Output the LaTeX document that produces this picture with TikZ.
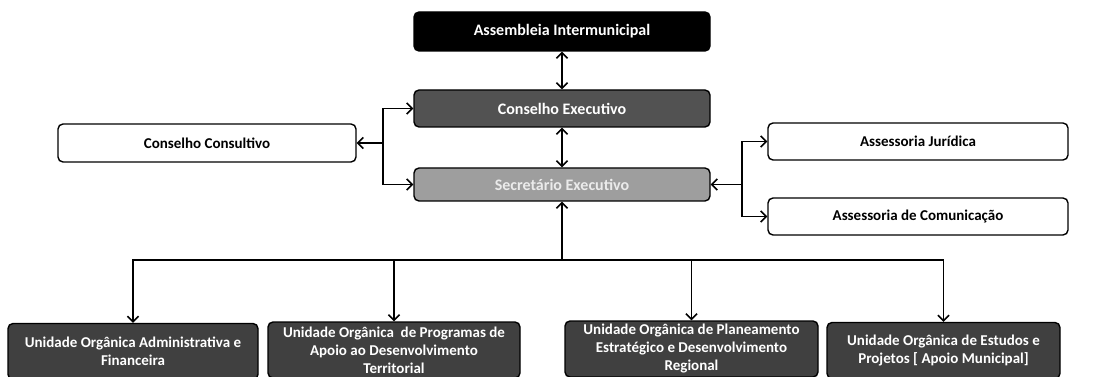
\documentclass[tikz,border=0pt]{standalone}
\usepackage{fontspec}
\setmainfont{Carlito}
\usetikzlibrary{arrows.meta}
\begin{document}
\begin{tikzpicture}[x=1pt,y=-1pt,
  box/.style={draw=black, line width=1.4pt, rounded corners=5pt,
    font=\bfseries\fontsize{15}{18}\selectfont, align=center, inner sep=0pt},
  wbox/.style={box, fill=white, text=black, minimum width=298pt, minimum height=38pt},
  topbox/.style={box, fill=black, text=white, minimum width=296pt, minimum height=39pt,
    font=\bfseries\fontsize{16}{18}\selectfont},
  cebox/.style={box, fill=black!68, text=white, minimum width=296pt, minimum height=37pt,
    font=\bfseries\fontsize{16}{18}\selectfont},
  sebox/.style={box, fill=black!38, text=black!8, minimum width=296pt, minimum height=33pt,
    font=\bfseries\fontsize{16}{18}\selectfont},
  ubox/.style={box, fill=black!75, text=white, minimum height=56pt},
  tip/.style={},
  conn/.style={line width=1.3pt, -{Straight Barb[length=5.5pt,width=11pt,line width=1.6pt]}},
  dconn/.style={line width=1.3pt, {Straight Barb[length=5.5pt,width=11pt,line width=1.6pt]}-{Straight Barb[length=5.5pt,width=11pt,line width=1.6pt]}},
]
\useasboundingbox (0,0) rectangle (1096,377);
\clip (0,0) rectangle (1096,377);

\node[topbox] (asm) at (562,31.5) {Assembleia Intermunicipal};
\node[cebox] (ce) at (562,108.5) {Conselho Executivo};
\node[sebox] (se) at (562,184.5) {Secretário Executivo};

\node[wbox] (cc) at (207,143) {Conselho Consultivo};
\node[wbox, minimum width=300pt, minimum height=37pt] (aj) at (918,141.5) {Assessoria Jurídica};
\node[wbox, minimum width=300pt, minimum height=37pt] (ac) at (918,216.5) {Assessoria de Comunicação};

\node[ubox, minimum width=250pt] (u1) at (133,351.5) {Unidade Orgânica Administrativa e\\Financeira};
\node[ubox, minimum width=252pt] (u2) at (394,350) {Unidade Orgânica\ \ de Programas de\\Apoio ao Desenvolvimento\\Territorial};
\node[ubox, minimum width=253pt] (u3) at (691.5,349) {Unidade Orgânica de Planeamento\\Estratégico e Desenvolvimento\\Regional};
\node[ubox, minimum width=233pt] (u4) at (943.5,350.5) {Unidade Orgânica de Estudos e\\Projetos [ Apoio Municipal]};

\draw[dconn] (asm) -- (ce);
\draw[dconn] (ce) -- (se);

\coordinate (lb) at (383,143);
\draw[conn] (lb) -- (cc.east);
\draw[conn] (lb) |- (ce.west);
\draw[conn] (lb) |- (se.west);

\coordinate (rb) at (742,184.5);
\draw[conn] (rb) -- (se.east);
\draw[conn] (rb) |- (aj.west);
\draw[conn] (rb) |- (ac.west);

\coordinate (bus) at (562,260);
\draw[conn] (bus) -- (se.south);
\draw[conn] (bus) -| (u1.north);
\draw[conn] (bus) -| (u2.north);
\draw[conn] (bus) -| (u3.north);
\draw[conn] (bus) -| (u4.north);
\end{tikzpicture}
\end{document}
